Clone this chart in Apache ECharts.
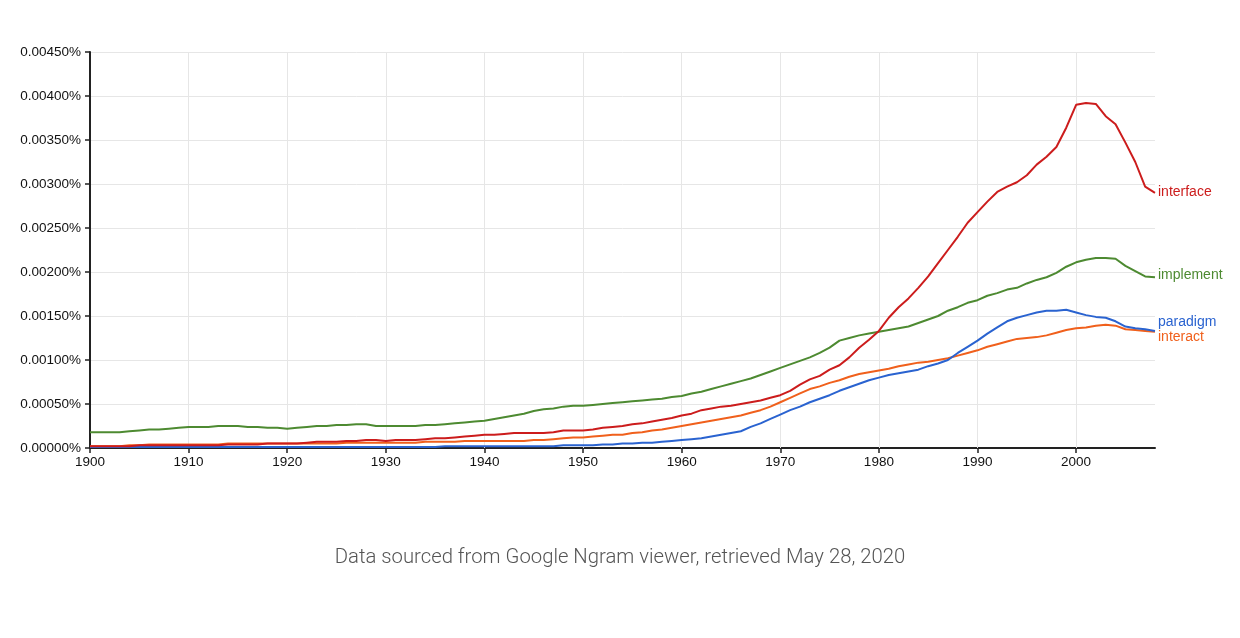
<!DOCTYPE html>
<html>
<head>
<meta charset="utf-8">
<script src="https://cdn.jsdelivr.net/npm/echarts@6/dist/echarts.min.js"></script>
<style>
html,body{margin:0;padding:0;background:#fff;}
#chart{width:1240px;height:638px;}
</style>
</head>
<body>
<div id="chart"></div>
<script>
const startYear = 1900;
const xTicks = [1900, 1910, 1920, 1930, 1940, 1950, 1960, 1970, 1980, 1990, 2000];
const yTicks = ['0.00000%','0.00050%','0.00100%','0.00150%','0.00200%','0.00250%','0.00300%','0.00350%','0.00400%','0.00450%'];
const seriesNames = ['interface', 'implement', 'paradigm', 'interact'];

const interfaceVals = [
  0.00002,0.00002,0.00002,0.00002,0.00002,0.00003,0.00003,0.00003,0.00003,0.00003,
  0.00003,0.00003,0.00003,0.00003,0.00004,0.00004,0.00004,0.00004,0.00005,0.00005,
  0.00005,0.00005,0.00006,0.00007,0.00007,0.00007,0.00008,0.00008,0.00009,0.00009,
  0.00008,0.00009,0.00009,0.00009,0.00010,0.00011,0.00011,0.00012,0.00013,0.00014,
  0.00015,0.00015,0.00016,0.00017,0.00017,0.00017,0.00017,0.00018,0.00020,0.00020,
  0.00020,0.00021,0.00023,0.00024,0.00025,0.00027,0.00028,0.00030,0.00032,0.00034,
  0.00037,0.00039,0.00043,0.00045,0.00047,0.00048,0.00050,0.00052,0.00054,0.00057,
  0.00060,0.00065,0.00072,0.00078,0.00082,0.00089,0.00094,0.00103,0.00114,0.00123,
  0.00133,0.00148,0.00160,0.00170,0.00182,0.00195,0.00210,0.00225,0.00240,0.00256,
  0.00268,0.00280,0.00291,0.00297,0.00302,0.00310,0.00322,0.00331,0.00342,0.00364,
  0.00390,0.00392,0.00391,0.00377,0.00368,0.00347,0.00325,0.00297,0.00290
];
const implementVals = [
  0.00018,0.00018,0.00018,0.00018,0.00019,0.00020,0.00021,0.00021,0.00022,0.00023,
  0.00024,0.00024,0.00024,0.00025,0.00025,0.00025,0.00024,0.00024,0.00023,0.00023,
  0.00022,0.00023,0.00024,0.00025,0.00025,0.00026,0.00026,0.00027,0.00027,0.00025,
  0.00025,0.00025,0.00025,0.00025,0.00026,0.00026,0.00027,0.00028,0.00029,0.00030,
  0.00031,0.00033,0.00035,0.00037,0.00039,0.00042,0.00044,0.00045,0.00047,0.00048,
  0.00048,0.00049,0.00050,0.00051,0.00052,0.00053,0.00054,0.00055,0.00056,0.00058,
  0.00059,0.00062,0.00064,0.00067,0.00070,0.00073,0.00076,0.00079,0.00083,0.00087,
  0.00091,0.00095,0.00099,0.00103,0.00108,0.00114,0.00122,0.00125,0.00128,0.00130,
  0.00132,0.00134,0.00136,0.00138,0.00142,0.00146,0.00150,0.00156,0.00160,0.00165,
  0.00168,0.00173,0.00176,0.00180,0.00182,0.00187,0.00191,0.00194,0.00199,0.00206,
  0.00211,0.00214,0.00216,0.00216,0.00215,0.00207,0.00201,0.00195,0.00194
];
const paradigmVals = [
  0.00001,0.00001,0.00001,0.00001,0.00001,0.00001,0.00001,0.00001,0.00001,0.00001,
  0.00001,0.00001,0.00001,0.00001,0.00001,0.00001,0.00001,0.00001,0.00001,0.00001,
  0.00001,0.00001,0.00001,0.00001,0.00001,0.00001,0.00001,0.00001,0.00001,0.00001,
  0.00001,0.00001,0.00001,0.00001,0.00001,0.00001,0.00002,0.00002,0.00002,0.00002,
  0.00002,0.00002,0.00002,0.00002,0.00002,0.00002,0.00002,0.00002,0.00003,0.00003,
  0.00003,0.00003,0.00004,0.00004,0.00005,0.00005,0.00006,0.00006,0.00007,0.00008,
  0.00009,0.00010,0.00011,0.00013,0.00015,0.00017,0.00019,0.00024,0.00028,0.00033,
  0.00038,0.00043,0.00047,0.00052,0.00056,0.00060,0.00065,0.00069,0.00073,0.00077,
  0.00080,0.00083,0.00085,0.00087,0.00089,0.00093,0.00096,0.00100,0.00108,0.00115,
  0.00122,0.00130,0.00137,0.00144,0.00148,0.00151,0.00154,0.00156,0.00156,0.00157,
  0.00154,0.00151,0.00149,0.00148,0.00144,0.00138,0.00136,0.00135,0.00133
];
const interactVals = [
  0.00002,0.00002,0.00002,0.00002,0.00003,0.00003,0.00004,0.00004,0.00004,0.00004,
  0.00004,0.00004,0.00004,0.00004,0.00005,0.00005,0.00005,0.00005,0.00005,0.00005,
  0.00005,0.00005,0.00005,0.00005,0.00005,0.00005,0.00006,0.00006,0.00006,0.00006,
  0.00006,0.00006,0.00006,0.00006,0.00007,0.00007,0.00007,0.00007,0.00008,0.00008,
  0.00008,0.00008,0.00008,0.00008,0.00008,0.00009,0.00009,0.00010,0.00011,0.00012,
  0.00012,0.00013,0.00014,0.00015,0.00015,0.00017,0.00018,0.00020,0.00021,0.00023,
  0.00025,0.00027,0.00029,0.00031,0.00033,0.00035,0.00037,0.00040,0.00043,0.00047,
  0.00052,0.00057,0.00062,0.00067,0.00070,0.00074,0.00077,0.00081,0.00084,0.00086,
  0.00088,0.00090,0.00093,0.00095,0.00097,0.00098,0.00100,0.00102,0.00105,0.00108,
  0.00111,0.00115,0.00118,0.00121,0.00124,0.00125,0.00126,0.00128,0.00131,0.00134,
  0.00136,0.00137,0.00139,0.00140,0.00139,0.00135,0.00134,0.00133,0.00132
];
const caption = 'Data sourced from Google Ngram viewer, retrieved May 28, 2020';

const colors = ['#cc1c1c', '#4d8a31', '#2a63d0', '#f0601c'];
const labelOffsets = [[0, -1], [0, -2], [0, -9], [0, 5]];
const allVals = [interfaceVals, implementVals, paradigmVals, interactVals];
const FONT = 'Liberation Sans, Arial, sans-serif';

function toPairs(vals) { return vals.map((v, i) => [startYear + i, v]); }

const lineSeries = seriesNames.map((name, k) => ({
  name: name, type: 'line', showSymbol: false, symbol: 'none',
  data: toPairs(allVals[k]),
  lineStyle: {color: colors[k], width: 2},
  itemStyle: {color: colors[k]},
  endLabel: {show: true, formatter: '{a}', color: colors[k], fontSize: 14,
    fontFamily: FONT, distance: 3, offset: labelOffsets[k]},
  z: 10 - k
}));

// vertical grid lines at decade ticks, placed through the x scale
lineSeries.push({
  name: 'vgrid', type: 'line', data: [], silent: true, z: 1,
  markLine: {
    silent: true, symbol: 'none', animation: false,
    label: {show: false},
    lineStyle: {color: '#e6e6e6', width: 1, type: 'solid'},
    data: xTicks.slice(1).map(v => ({xAxis: v}))
  }
});

const chart = echarts.init(document.getElementById('chart'), null, {renderer: 'canvas'});
chart.setOption({
  animation: false,
  backgroundColor: '#ffffff',
  grid: {left: 90, right: 85, top: 52, bottom: 190, containLabel: false},
  xAxis: {
    type: 'value', min: 1900, max: 2008, interval: 10,
    axisLine: {show: true, lineStyle: {color: '#222', width: 2}},
    axisTick: {show: true, length: 5, lineStyle: {color: '#222', width: 1.5}, customValues: xTicks},
    axisLabel: {color: '#111', fontSize: 13.5, fontFamily: FONT, margin: 7, customValues: xTicks,
      formatter: v => String(v)},
    splitLine: {show: false}
  },
  yAxis: {
    type: 'value', min: 0, max: 0.0045, interval: 0.0005,
    axisLine: {show: true, lineStyle: {color: '#222', width: 2}},
    axisTick: {show: true, length: 5, lineStyle: {color: '#222', width: 1.5}},
    axisLabel: {color: '#111', fontSize: 13.5, fontFamily: FONT, margin: 9,
      formatter: v => yTicks[Math.round(v / 0.0005)]},
    splitLine: {show: true, lineStyle: {color: '#e6e6e6', width: 1}}
  },
  series: lineSeries,
  graphic: [{
    type: 'text', left: 'center', top: 548,
    style: {text: caption, fill: '#555', fontSize: 20.3, fontFamily: 'Roboto, sans-serif', fontWeight: 300}
  }]
});
</script>
</body>
</html>
